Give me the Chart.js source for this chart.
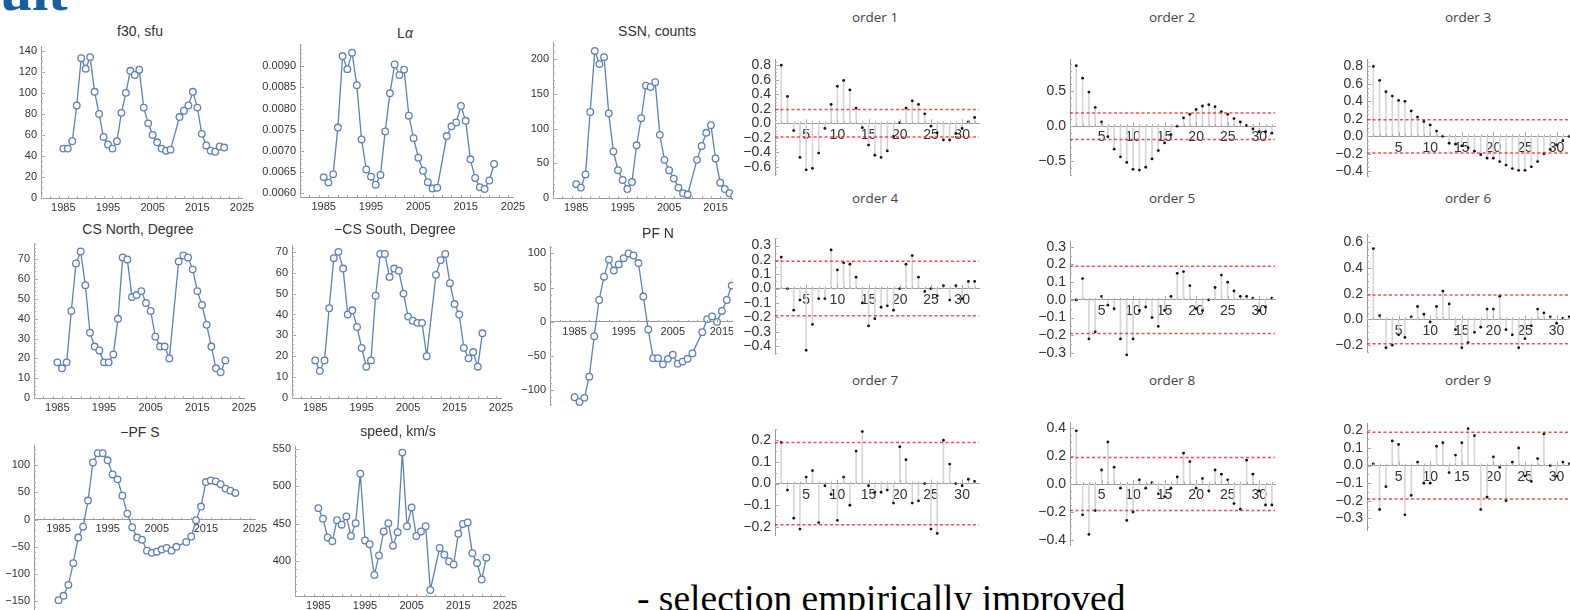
<!DOCTYPE html>
<html><head><meta charset="utf-8">
<script src="https://cdn.jsdelivr.net/npm/chart.js@4.4.1/dist/chart.umd.min.js"></script>
<style>
html,body{margin:0;padding:0;background:#fff;}
body{width:1570px;height:610px;overflow:hidden;position:relative;}
.box{position:absolute;overflow:hidden;}
.ttl{position:absolute;transform:translateX(-50%);white-space:nowrap;line-height:16px;}
.lt{font-family:'Liberation Sans Narrow','Arial Narrow','Liberation Sans',sans-serif;font-size:14px;color:#333;}
.ot{font-family:'Open Sans',sans-serif;font-size:13.5px;color:#444;}
#head{position:absolute;left:0px;top:-38px;font-family:'Liberation Serif',serif;font-weight:bold;font-size:58px;color:#1a5c9e;line-height:58px;white-space:nowrap;}
#foot{position:absolute;left:637px;top:580px;font-family:'Liberation Serif',serif;font-size:37.5px;color:#000;line-height:38px;white-space:nowrap;}
</style></head><body>
<div id="head">ult</div>
<div id="foot">- selection empirically improved</div>
<script>
// ---------------- DATA ----------------
const years = [1985,1986,1987,1988,1989,1990,1991,1992,1993,1994,1995,1996,1997,1998,1999,2000,2001,2002,2003,2004,2005,2006,2007,2008,2009,2011,2012,2013,2014,2015,2016,2017,2018,2019,2020,2021];
const f30 = [47,47,54,88,133,123,134,101,80,58,51,47,54,81,100,121,117,122,86,71,60,53,47,45,46,77,83,88,101,86,61,50,45,44,49,48];
const lyman = [0.00638,0.00625,0.00645,0.00755,0.00924,0.00893,0.00932,0.00855,0.00727,0.00656,0.00639,0.00620,0.00643,0.00746,0.00836,0.00904,0.00879,0.00892,0.00783,0.00730,0.00684,0.00653,0.00626,0.00611,0.00613,0.00735,0.00758,0.00767,0.00806,0.00771,0.00680,0.00636,0.00614,0.00610,0.00630,0.00669];
const ssn = [20,15,34,124,212,193,203,122,67,40,26,13,23,76,115,162,160,167,91,55,40,28,15,7,5,55,75,94,105,57,22,13,7,3,4,7];
const csNorth = [18,15,18,44,68,74,57,33,26,24,18,18,22,40,71,70,51,52,54,48,44,31,26,26,20,69,72,71,65,54,47,37,26,15,13,19];
const csSouth = [18,13,18,43,67,70,62,40,42,34,24,15,18,49,69,69,58,62,61,50,39,37,36,36,20,59,66,69,55,45,40,24,19,22,15,31];
const pfNorth = [-110,-117,-111,-80,-21,32,66,91,75,84,93,100,97,86,37,-11,-53,-53,-62,-54,-48,-61,-58,-54,-46,-15,4,8,0,16,32,53,62,70,78,85];
const pfSouth = [-148,-140,-120,-80,-33,-13,35,105,122,122,109,83,74,44,11,-14,-33,-37,-57,-61,-59,-55,-52,-57,-50,-41,-31,-1,24,69,72,70,65,57,53,49];
const speed = [471,457,432,427,455,449,460,434,451,517,428,423,382,408,440,451,421,439,545,447,472,434,440,447,362,418,409,400,396,437,450,452,411,398,376,405];

const lags = [1,2,3,4,5,6,7,8,9,10,11,12,13,14,15,16,17,18,19,20,21,22,23,24,25,26,27,28,29,30,31,32];
const order1 = [0.80,0.37,-0.10,-0.47,-0.64,-0.62,-0.41,-0.07,0.26,0.51,0.59,0.46,0.21,-0.06,-0.30,-0.44,-0.47,-0.38,-0.18,0.01,0.21,0.31,0.26,0.13,-0.04,-0.13,-0.23,-0.23,-0.14,-0.07,0.02,0.08];
const order2 = [0.87,0.69,0.49,0.27,0.06,-0.15,-0.33,-0.44,-0.52,-0.62,-0.63,-0.59,-0.47,-0.35,-0.24,-0.12,0.00,0.12,0.17,0.24,0.29,0.31,0.28,0.21,0.17,0.11,0.06,0.01,-0.04,-0.08,-0.08,-0.10];
const order3 = [0.80,0.64,0.51,0.46,0.41,0.40,0.29,0.22,0.17,0.13,0.06,0.00,-0.08,-0.09,-0.11,-0.13,-0.17,-0.21,-0.25,-0.25,-0.29,-0.33,-0.37,-0.39,-0.39,-0.35,-0.29,-0.20,-0.15,-0.10,-0.05,0.00];
const order4 = [0.22,0.00,-0.15,-0.08,-0.43,-0.25,-0.07,-0.07,0.27,0.13,0.18,0.17,0.08,-0.10,-0.26,-0.21,-0.13,-0.12,-0.15,0.00,0.17,0.23,0.08,-0.02,0.00,-0.05,0.02,-0.08,0.02,-0.07,0.05,0.05];
const order5 = [0.00,0.12,-0.22,-0.18,0.02,-0.03,-0.05,-0.22,-0.31,-0.22,-0.06,-0.04,-0.10,-0.15,-0.06,0.02,0.15,0.16,0.08,-0.05,-0.06,0.00,0.07,0.14,0.10,0.05,0.02,0.02,0.01,-0.06,-0.04,0.01];
const order6 = [0.55,0.03,-0.22,-0.20,-0.12,-0.14,0.02,0.10,0.04,-0.02,0.10,0.22,0.12,-0.08,-0.22,-0.18,-0.10,-0.06,0.08,0.08,0.18,-0.08,-0.12,-0.22,-0.15,-0.05,0.08,0.05,0.02,-0.03,0.01,0.02];
const order7 = [0.19,-0.03,-0.16,-0.21,0.03,0.06,-0.18,-0.01,-0.05,-0.17,0.03,-0.10,0.15,0.24,-0.01,-0.04,-0.04,-0.03,-0.09,0.17,0.11,-0.09,-0.08,0.00,-0.21,-0.23,0.20,0.09,0.00,-0.01,0.02,0.01];
const order8 = [0.38,-0.22,-0.36,-0.19,0.10,0.30,0.12,-0.03,-0.26,-0.20,0.03,-0.03,0.01,-0.07,-0.09,-0.03,0.05,0.22,0.16,-0.03,0.04,-0.05,0.10,0.07,0.03,-0.14,-0.18,0.17,0.07,-0.05,-0.15,-0.15];
const order9 = [0.01,-0.25,-0.12,0.14,0.12,-0.28,-0.17,0.02,-0.10,-0.10,0.11,0.13,-0.04,0.06,0.13,0.21,0.17,-0.25,-0.18,0.05,-0.01,-0.20,0.02,0.10,-0.06,-0.09,0.04,0.18,0.00,-0.06,0.02,0.01];
const ciBound = 0.19;

const yearTicks = [1985,1995,2005,2015,2025];
const lagTicks = [5,10,15,20,25,30];
const f30Ticks = [0,20,40,60,80,100,120,140];
const lymanTicks = [0.0060,0.0065,0.0070,0.0075,0.0080,0.0085,0.0090];
const ssnTicks = [0,50,100,150,200];
const csTicks = [0,10,20,30,40,50,60,70];
const pfnTicks = [-100,-50,0,50,100];
const pfsTicks = [-150,-100,-50,0,50,100];
const speedTicks = [400,450,500,550];
const o1Ticks = [-0.6,-0.4,-0.2,0,0.2,0.4,0.6,0.8];
const o2Ticks = [-0.5,0,0.5];
const o3Ticks = [-0.4,-0.2,0,0.2,0.4,0.6,0.8];
const o4Ticks = [-0.4,-0.3,-0.2,-0.1,0,0.1,0.2,0.3];
const o5Ticks = [-0.3,-0.2,-0.1,0,0.1,0.2,0.3];
const o6Ticks = [-0.2,0,0.2,0.4,0.6];
const o7Ticks = [-0.2,-0.1,0,0.1,0.2];
const o8Ticks = [-0.4,-0.2,0,0.2,0.4];
const o9Ticks = [-0.3,-0.2,-0.1,0,0.1,0.2];

// ---------------- STYLE / HELPERS ----------------
const BLUE = '#5E81B5';
const AX = '#9a9a9a';
const NARROW = "'Liberation Sans Narrow','Arial Narrow','Liberation Sans',sans-serif";
const SANS = "'Liberation Sans',Arial,sans-serif";
const M = '\u2212';
const fInt = v => (v<0?M:'') + Math.abs(v);
const f4 = v => v.toFixed(4);
const f1 = v => (v<0?M:'') + Math.abs(v).toFixed(1);

function lin(c){const a=c[0],b=c[1];const k=(b[1]-a[1])/(b[0]-a[0]);return v=>a[1]+(v-a[0])*k;}

const mmaAxes = {
  id:'mmaAxes',
  afterDatasetsDraw(chart, args, o){
    if(!o || !o.on) return;
    const ctx = chart.ctx, xs = chart.scales.x, ys = chart.scales.y;
    const xLineY = o.xAtZero ? ys.getPixelForValue(0) : xs.top;
    const yLineX = ys.right;
    ctx.save(); ctx.strokeStyle = o.color; ctx.lineWidth = 1; ctx.beginPath();
    const doAxis = (sc, majors, sub, isX) => {
      const step = (majors[1]-majors[0])/sub;
      const n0 = Math.ceil(sc.min/step - 1e-6), n1 = Math.floor(sc.max/step + 1e-6);
      for(let n=n0;n<=n1;n++){
        const v = n*step;
        const maj = majors.some(m=>Math.abs(m-v) < step*1e-3);
        const len = maj?4:2;
        if(isX){const px=Math.round(sc.getPixelForValue(v))+0.5; ctx.moveTo(px,xLineY); ctx.lineTo(px,xLineY-len);}
        else {const py=Math.round(sc.getPixelForValue(v))+0.5; ctx.moveTo(yLineX,py); ctx.lineTo(yLineX+len,py);}
      }
    };
    doAxis(xs, o.xt, o.xsub, true);
    doAxis(ys, o.yt, o.ysub, false);
    ctx.stroke(); ctx.restore();
  }
};
const ciLines = {
  id:'ciLines',
  afterDatasetsDraw(chart, args, o){
    if(!o || !o.on) return;
    const ctx = chart.ctx, ys = chart.scales.y, ca = chart.chartArea;
    ctx.save(); ctx.strokeStyle = 'rgba(235,35,35,0.8)'; ctx.lineWidth = 1.5; ctx.setLineDash([3,2.5]);
    [o.bound, -o.bound].forEach(b=>{const py=ys.getPixelForValue(b); ctx.beginPath(); ctx.moveTo(ca.left,py); ctx.lineTo(ca.right,py); ctx.stroke();});
    ctx.restore();
  }
};
Chart.register(mmaAxes, ciLines);

function addTitle(html, cx, cy, cls){
  const d=document.createElement('div'); d.className='ttl '+cls; d.innerHTML=html;
  d.style.left=cx+'px'; d.style.top=(cy-8)+'px'; document.body.appendChild(d);
}

function frame(s){
  const fx=lin(s.xc), fy=lin(s.yc);
  const L=fx(s.xr[0]), R=fx(s.xr[1]), T=fy(s.yr[1]), B=fy(s.yr[0]);
  const yW=44, padT=8, padR=18, padB=8, xH=s.xAtZero?0:16;
  const left=Math.round(L)-yW, top=Math.round(T)-padT;
  const pw=Math.round(R)-Math.round(L), ph=Math.round(B)-Math.round(T);
  const w=pw+yW+padR, h=ph+padT+(s.xAtZero?padB:xH);
  const box=document.createElement('div'); box.className='box';
  box.style.left=left+'px'; box.style.top=top+'px';
  box.style.width=(s.clip?Math.min(w,s.clip-left):w)+'px'; box.style.height=h+'px';
  const cv=document.createElement('canvas'); cv.width=w; cv.height=h;
  cv.style.width=w+'px'; cv.style.height=h+'px'; cv.style.display='block';
  box.appendChild(cv); document.body.appendChild(box);
  return {cv, yW, padT, padR, padB, xH};
}

function scalesFor(s, f, xticks, xfont, yfont){
  return {
    x:{type:'linear', min:s.xr[0], max:s.xr[1], offset:false,
       position: s.xAtZero ? {y:0} : 'bottom',
       grid:{display:false, drawTicks:false}, border:{display:true,color:AX,width:1},
       ticks:{font:xfont, color:'#333', padding:s.xpad??3, maxRotation:0, autoSkip:false, callback:v=>String(v)},
       afterBuildTicks:sc=>{sc.ticks = xticks.map(v=>({value:v}));},
       afterFit:sc=>{ if(!s.xAtZero) sc.height=f.xH; }},
    y:{type:'linear', min:s.yr[0], max:s.yr[1],
       grid:{display:false, drawTicks:false}, border:{display:true,color:AX,width:1},
       ticks:{font:yfont, color:'#333', padding:4, autoSkip:false, callback:s.fmt},
       afterBuildTicks:sc=>{sc.ticks = s.yt.map(v=>({value:v}));},
       afterFit:sc=>{sc.width=f.yW;}}
  };
}

function lineChart(s){
  addTitle(s.title, s.tx, s.ty, 'lt');
  const f=frame(s);
  new Chart(f.cv,{
    type:'line',
    data:{datasets:[{data:years.map((x,i)=>({x:x, y:s.vals[i]})), borderColor:BLUE, borderWidth:1.3,
      pointRadius:3.3, pointBackgroundColor:'#fff', pointBorderColor:BLUE, pointBorderWidth:1.3, tension:0, clip:false}]},
    options:{responsive:false, animation:false, events:[],
      layout:{padding:{left:0, top:f.padT, right:f.padR, bottom:s.xAtZero?f.padB:0}},
      plugins:{legend:{display:false}, tooltip:{enabled:false},
        mmaAxes:{on:true, color:'#aaa', xt:yearTicks, xsub:5, yt:s.yt, ysub:s.ysub||5, xAtZero:!!s.xAtZero}},
      scales:scalesFor(s, f, yearTicks, {family:NARROW,size:11}, {family:NARROW,size:11})
    }
  });
}

function stemChart(s){
  addTitle(s.title, s.tx, s.ty, 'ot');
  const f=frame(s);
  const pts = lags.map((l,i)=>({x:l, y:s.vals[i]}));
  new Chart(f.cv,{
    type:'bar',
    data:{datasets:[
      {type:'bar', data:pts, backgroundColor:'#d6d6d6', borderWidth:0, barThickness:1, order:2},
      {type:'scatter', data:pts, pointRadius:1.4, pointBackgroundColor:'#111', pointBorderWidth:0, showLine:false, order:1, clip:false}
    ]},
    options:{responsive:false, animation:false, events:[],
      layout:{padding:{left:0, top:f.padT, right:f.padR, bottom:f.padB}},
      plugins:{legend:{display:false}, tooltip:{enabled:false},
        ciLines:{on:true, bound:ciBound},
        mmaAxes:{on:true, color:'#aaa', xt:lagTicks, xsub:5, yt:s.yt, ysub:s.ysub||4, xAtZero:true}},
      scales:scalesFor(s, f, lagTicks, {family:SANS,size:14}, {family:SANS,size:14})
    }
  });
}

// ---------------- LEFT PANELS ----------------
lineChart({title:'f30, sfu', tx:140, ty:31, vals:f30, yt:f30Ticks, fmt:fInt, ysub:4,
  xc:[[1985,63.3],[2021,224]], xr:[1980,2025], yc:[[0,198.3],[140,48.3]], yr:[0,144]});
lineChart({title:'L<i>α</i>', tx:405, ty:33, vals:lyman, yt:lymanTicks, fmt:f4, ysub:5,
  xc:[[1985,323.3],[2021,493.7]], xr:[1980,2025], yc:[[0.006,193.3],[0.009,64]], yr:[0.00591,0.00951]});
lineChart({title:'SSN, counts', tx:657, ty:31, vals:ssn, yt:ssnTicks, fmt:fInt, ysub:5, clip:733,
  xc:[[1985,576],[2014,710.7]], xr:[1980,2025], yc:[[0,198.3],[200,57]], yr:[0,224]});
lineChart({title:'CS North, Degree', tx:138, ty:229, vals:csNorth, yt:csTicks, fmt:fInt, ysub:5,
  xc:[[1985,57.7],[2021,225.7]], xr:[1980,2025], yc:[[0,398.3],[70,256.7]], yr:[0,78]});
lineChart({title:M+'CS South, Degree', tx:395, ty:229, vals:csSouth, yt:csTicks, fmt:fInt, ysub:5,
  xc:[[1985,315],[2021,482.7]], xr:[1980,2025], yc:[[0,398.3],[70,249]], yr:[0,73]});
lineChart({title:'PF N', tx:658, ty:233, vals:pfNorth, yt:pfnTicks, fmt:fInt, ysub:5, clip:733, xAtZero:true,
  xc:[[1985,574.3],[2017,731.7]], xr:[1980,2025], yc:[[0,321.7],[100,251]], yr:[-122,110]});
lineChart({title:M+'PF S', tx:140, ty:432, vals:pfSouth, yt:pfsTicks, fmt:fInt, ysub:5, xAtZero:true,
  xc:[[1985,58.3],[2021,235]], xr:[1980,2025], yc:[[0,519.3],[100,463.3]], yr:[-165,136]});
lineChart({title:'speed, km/s', tx:398, ty:431, vals:speed, yt:speedTicks, fmt:fInt, ysub:5,
  xc:[[1985,318.3],[2021,486]], xr:[1980,2025], yc:[[400,561.3],[550,446.7]], yr:[354,553]});

// ---------------- RIGHT PANELS ----------------
const c1 = [[0,774.7],[30,962.3]], c2 = [[5,1101.7],[30,1259.3]], c3 = [[5,1398.3],[30,1556.7]];
stemChart({title:'order 1', tx:875, ty:17, vals:order1, yt:o1Ticks, fmt:f1, ysub:4, xAtZero:true,
  xc:c1, xr:[0,32.7], yc:[[0,124],[0.8,61.7]], yr:[-0.72,0.88]});
stemChart({title:'order 2', tx:1172, ty:17, vals:order2, yt:o2Ticks, fmt:f1, ysub:5, xAtZero:true,
  xc:c2, xr:[0,32.5], yc:[[0,126.7],[0.5,89.3]], yr:[-0.71,0.96]});
stemChart({title:'order 3', tx:1468, ty:17, vals:order3, yt:o3Ticks, fmt:f1, ysub:4, xAtZero:true,
  xc:c3, xr:[0,32.6], yc:[[0,137.7],[0.8,62.3]], yr:[-0.45,0.88]});
stemChart({title:'order 4', tx:875, ty:198, vals:order4, yt:o4Ticks, fmt:f1, ysub:2, xAtZero:true,
  xc:c1, xr:[0,32.7], yc:[[0,288],[0.3,241.5]], yr:[-0.46,0.35]});
stemChart({title:'order 5', tx:1172, ty:198, vals:order5, yt:o5Ticks, fmt:f1, ysub:2, xAtZero:true,
  xc:c2, xr:[0,32.5], yc:[[0,300],[0.3,243]], yr:[-0.32,0.33]});
stemChart({title:'order 6', tx:1468, ty:198, vals:order6, yt:o6Ticks, fmt:f1, ysub:4, xAtZero:true,
  xc:c3, xr:[0,32.6], yc:[[0,321],[0.6,238]], yr:[-0.25,0.66]});
stemChart({title:'order 7', tx:875, ty:380, vals:order7, yt:o7Ticks, fmt:f1, ysub:2, xAtZero:true,
  xc:c1, xr:[0,32.7], yc:[[0,484],[0.2,437]], yr:[-0.24,0.25]});
stemChart({title:'order 8', tx:1172, ty:380, vals:order8, yt:o8Ticks, fmt:f1, ysub:4, xAtZero:true,
  xc:c2, xr:[0,32.5], yc:[[0,484],[0.4,424]], yr:[-0.44,0.44]});
stemChart({title:'order 9', tx:1468, ty:380, vals:order9, yt:o9Ticks, fmt:f1, ysub:2, xAtZero:true,
  xc:c3, xr:[0,32.6], yc:[[0,465],[0.2,427]], yr:[-0.37,0.24]});
</script>
</body></html>
